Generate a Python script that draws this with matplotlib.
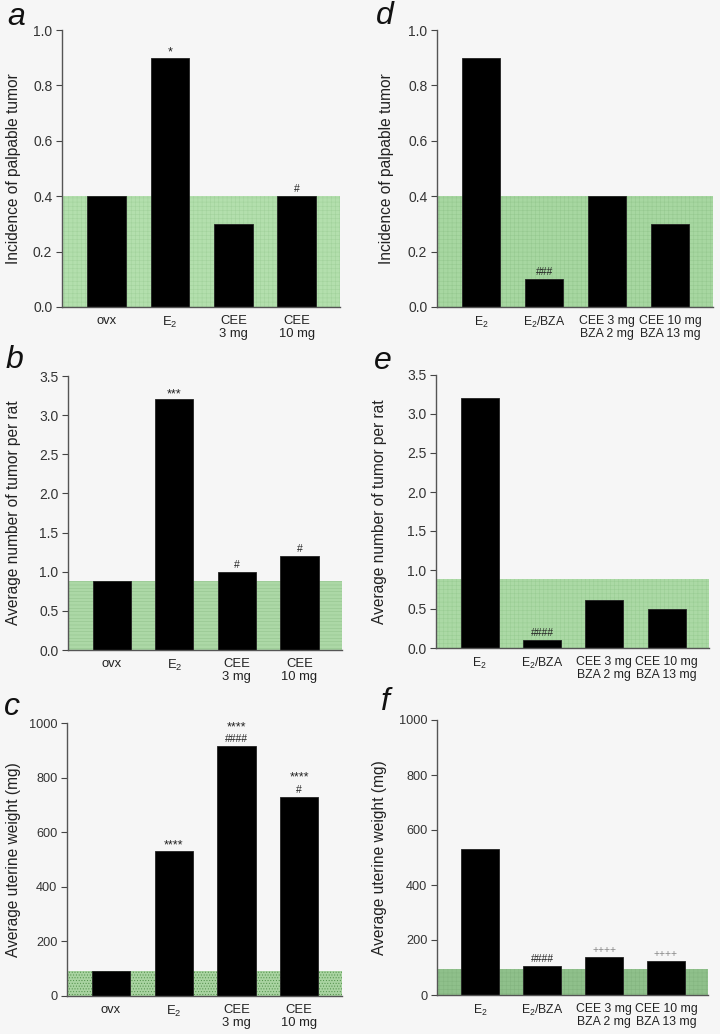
import matplotlib
matplotlib.use("Agg")
import matplotlib.pyplot as plt

plt.rcParams['font.family'] = ['Liberation Sans', 'DejaVu Sans']
plt.rcParams['mathtext.fontset'] = 'custom'
plt.rcParams['mathtext.rm'] = 'Liberation Sans'
plt.rcParams['mathtext.it'] = 'Liberation Sans:italic'
plt.rcParams['hatch.linewidth'] = 0.4

BG = '#f6f6f6'

# ---- data ----
left_cats = ['ovx', 'E$_2$', 'CEE\n3 mg', 'CEE\n10 mg']
right_cats = ['E$_2$', 'E$_2$/BZA', 'CEE 3 mg\nBZA 2 mg', 'CEE 10 mg\nBZA 13 mg']

a_vals = [0.4, 0.9, 0.3, 0.4]
b_vals = [0.88, 3.2, 1.0, 1.2]
c_vals = [92, 532, 915, 730]
d_vals = [0.9, 0.1, 0.4, 0.3]
e_vals = [3.2, 0.1, 0.62, 0.5]
f_vals = [532, 105, 138, 125]

shade = {'a': 0.4, 'b': 0.88, 'c': 92, 'd': 0.4, 'e': 0.88, 'f': 95}

# significance marks, listed from the bar upward
a_marks = [[], ['*'], [], ['#']]
b_marks = [[], ['***'], ['#'], ['#']]
c_marks = [[], ['****'], ['####', '****'], ['#', '****']]
d_marks = [[], ['###'], [], []]
e_marks = [[], ['####'], [], []]
f_marks = [[], ['####'], ['++++'], ['++++']]

ylabels = {'a': 'Incidence of palpable tumor', 'd': 'Incidence of palpable tumor',
           'b': 'Average number of tumor per rat', 'e': 'Average number of tumor per rat',
           'c': 'Average uterine weight (mg)', 'f': 'Average uterine weight (mg)'}

W, H = 720, 1034
fig = plt.figure(figsize=(W / 100, H / 100), dpi=100, facecolor=BG)

def px_axes(l, r, t, b):
    return fig.add_axes([l / W, 1 - b / H, (r - l) / W, (b - t) / H])

panels = {
    'a': dict(box=(62, 340, 30, 307), vals=a_vals, cats=left_cats, marks=a_marks,
              ylim=(0, 1.0), ticks=[0.0, 0.2, 0.4, 0.6, 0.8, 1.0], fmt='{:.1f}',
              color='#b3dfad', hatch='++++', hc='#a2d29c', lab=(16, 17), lx=-0.147),
    'd': dict(box=(437, 713, 30, 307), vals=d_vals, cats=right_cats, marks=d_marks,
              ylim=(0, 1.0), ticks=[0.0, 0.2, 0.4, 0.6, 0.8, 1.0], fmt='{:.1f}',
              color='#a7d7a1', hatch='++++', hc='#96c990', lab=(385, 16), lx=-0.156),
    'b': dict(box=(68, 342, 376, 650), vals=b_vals, cats=left_cats, marks=b_marks,
              ylim=(0, 3.5), ticks=[0.0, 0.5, 1.0, 1.5, 2.0, 2.5, 3.0, 3.5], fmt='{:.1f}',
              color='#acd8a6', hatch='-----', hc='#93c48d', lab=(14, 360), lx=-0.172),
    'e': dict(box=(436, 709, 375, 648), vals=e_vals, cats=right_cats, marks=e_marks,
              ylim=(0, 3.5), ticks=[0.0, 0.5, 1.0, 1.5, 2.0, 2.5, 3.0, 3.5], fmt='{:.1f}',
              color='#abd9a5', hatch='++++', hc='#9acd94', lab=(383, 361), lx=-0.18),
    'c': dict(box=(67, 342, 723, 996), vals=c_vals, cats=left_cats, marks=c_marks,
              ylim=(0, 1000), ticks=[0, 200, 400, 600, 800, 1000], fmt='{:.0f}',
              color='#a9d3a1', hatch='......', hc='#4f8f48', lab=(12, 707), lx=-0.167),
    'f': dict(box=(437, 708, 720, 995), vals=f_vals, cats=right_cats, marks=f_marks,
              ylim=(0, 1000), ticks=[0, 200, 400, 600, 800, 1000], fmt='{:.0f}',
              color='#8fc08b', hatch='++++', hc='#84b580', lab=(385, 702), lx=-0.185),
}

for key, p in panels.items():
    ax = px_axes(*p['box'])
    ax.set_facecolor(BG)
    x = list(range(len(p['vals'])))
    ax.axhspan(0, shade[key], facecolor=p['color'], edgecolor=p['hc'],
               hatch=p['hatch'], linewidth=0, zorder=1)
    ax.bar(x, p['vals'], width=0.61, color='black', edgecolor='#222222',
           linewidth=0.6, zorder=3)
    ax.set_xlim(-0.7, 3.68)
    ax.set_ylim(*p['ylim'])
    ax.set_yticks(p['ticks'])
    ax.set_yticklabels([p['fmt'].format(t) for t in p['ticks']],
                       fontsize=10 if key in 'abde' else 9.2, color='#333333')
    ax.set_xticks(x)
    left = key in 'abc'
    ax.set_xticklabels(p['cats'], fontsize=9.4 if left else 8.8, color='#222222',
                       linespacing=1.12)
    ax.tick_params(axis='x', length=0, pad=6)
    ax.tick_params(axis='y', length=4, width=0.8, color='#444444', direction='out', pad=3)
    for s in ['top', 'right']:
        ax.spines[s].set_visible(False)
    for s in ['left', 'bottom']:
        ax.spines[s].set_color('#555555')
        ax.spines[s].set_linewidth(1.0)
        ax.spines[s].set_zorder(4)
    ax.set_ylabel(ylabels[key], fontsize=11.2, color='#222222')
    ax.yaxis.set_label_coords(p['lx'], 0.5)
    for xi, v, lines in zip(x, p['vals'], p['marks']):
        for i, m in enumerate(lines):
            star = m.startswith('*')
            col = '#888888' if m.startswith('+') else '#222222'
            if i == 0:
                off = 8 if star else 7
            else:
                off = 7 + 15 * i
            ax.annotate(m, (xi, v), xytext=(0, off - (3 if star else 0)),
                        textcoords='offset pixels', ha='center', va='center',
                        fontsize=9 if star else 7.5, color=col, zorder=5)
    fig.text(p['lab'][0] / W, 1 - p['lab'][1] / H, key, fontsize=23, style='italic',
             ha='center', va='center', color='#111111')

fig.savefig('out.png', dpi=100, facecolor=BG)
